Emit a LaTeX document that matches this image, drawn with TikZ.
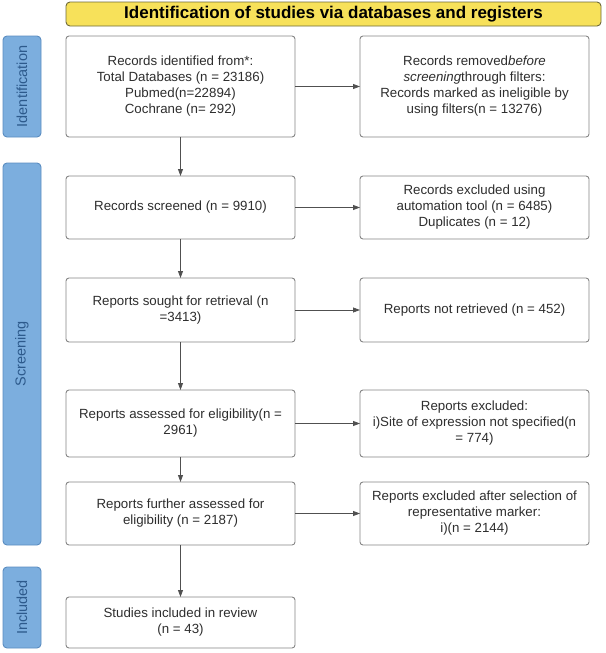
\documentclass[tikz,border=0pt]{standalone}
\usepackage{fontspec}
\setmainfont{Liberation Sans}
\usetikzlibrary{arrows.meta}
\definecolor{boxline}{HTML}{858585}
\definecolor{txt}{HTML}{2E2E2E}
\definecolor{titlefill}{HTML}{F7E15A}
\definecolor{titleline}{HTML}{6E6A3A}
\definecolor{barfill}{HTML}{7CAEDE}
\definecolor{barline}{HTML}{5A8CC0}
\definecolor{bartxt}{HTML}{2D5A8C}
\definecolor{arr}{HTML}{505050}
\begin{document}
\begin{tikzpicture}[x=1pt,y=-1pt,
  every node/.style={inner sep=0pt, outer sep=0pt, text=txt, font=\fontsize{13.3}{16}\selectfont},
  flowbox/.style={draw=boxline, line width=0.9pt, rounded corners=3pt, fill=white, align=center, minimum width=229pt},
  titlebox/.style={draw=titleline, line width=0.9pt, rounded corners=4pt, fill=titlefill, minimum width=535pt, minimum height=24pt, font=\fontsize{17}{19}\selectfont\bfseries, text=black},
  sidebar/.style={draw=barline, line width=0.9pt, rounded corners=4pt, fill=barfill, minimum width=38pt, text=bartxt},
  sidetext/.style={rotate=90, text=bartxt, font=\fontsize{14.5}{16}\selectfont},
  conn/.style={draw=arr, line width=0.8pt, -{Triangle[length=7pt,width=5pt]}}
]
\useasboundingbox (0,0) rectangle (605,653);
\node[titlebox] (title) at (333.5,14) {Identification of studies via databases and registers};

\node[sidebar, minimum height=101pt] (sid) at (22,86.5) {};
\node[sidetext] (sidt) at (22,86.5) {Identification};
\node[sidebar, minimum height=382pt] (sscr) at (22,354) {};
\node[sidetext] (sscrt) at (22,354) {Screening};
\node[sidebar, minimum height=81pt] (sinc) at (22,607.5) {};
\node[sidetext] (sinct) at (22,607.5) {Included};

\node[flowbox, minimum height=101pt] (l1) at (180.5,86.5) {Records identified from*:\\Total Databases (n = 23186)\\Pubmed(n=22894)\\Cochrane (n= 292)};
\node[flowbox, minimum height=101pt] (r1) at (474.5,86.5) {Records removed\textit{before}\\\textit{screening}through filters:\\Records marked as ineligible by\\using filters(n = 13276)};

\node[flowbox, minimum height=63pt] (l2) at (180.5,207.5) {Records screened (n = 9910)};
\node[flowbox, minimum height=63pt] (r2) at (474.5,207.5) {Records excluded using\\automation tool (n = 6485)\\Duplicates (n = 12)};

\node[flowbox, minimum height=64pt] (l3) at (180.5,310) {Reports sought for retrieval (n\\=3413)};
\node[flowbox, minimum height=64pt] (r3) at (474.5,310) {Reports not retrieved (n = 452)};

\node[flowbox, minimum height=67pt] (l4) at (180.5,423.5) {Reports assessed for eligibility(n =\\2961)};
\node[flowbox, minimum height=67pt] (r4) at (474.5,423.5) {Reports excluded:\\i)Site of expression not specified(n\\= 774)};

\node[flowbox, minimum height=63pt] (l5) at (180.5,513.5) {Reports further assessed for\\eligibility (n = 2187)};
\node[flowbox, minimum height=63pt] (r5) at (474.5,513.5) {Reports excluded after selection of\\representative marker:\\i)(n = 2144)};

\node[flowbox, minimum height=51pt] (l6) at (180.5,622.5) {Studies included in review\\(n = 43)};

\draw[conn] (l1) -- (r1);
\draw[conn] (l2) -- (r2);
\draw[conn] (l3) -- (r3);
\draw[conn] (l4) -- (r4);
\draw[conn] (l5) -- (r5);
\draw[conn] (l1) -- (l2);
\draw[conn] (l2) -- (l3);
\draw[conn] (l3) -- (l4);
\draw[conn] (l4) -- (l5);
\draw[conn] (l5) -- (l6);
\end{tikzpicture}
\end{document}
